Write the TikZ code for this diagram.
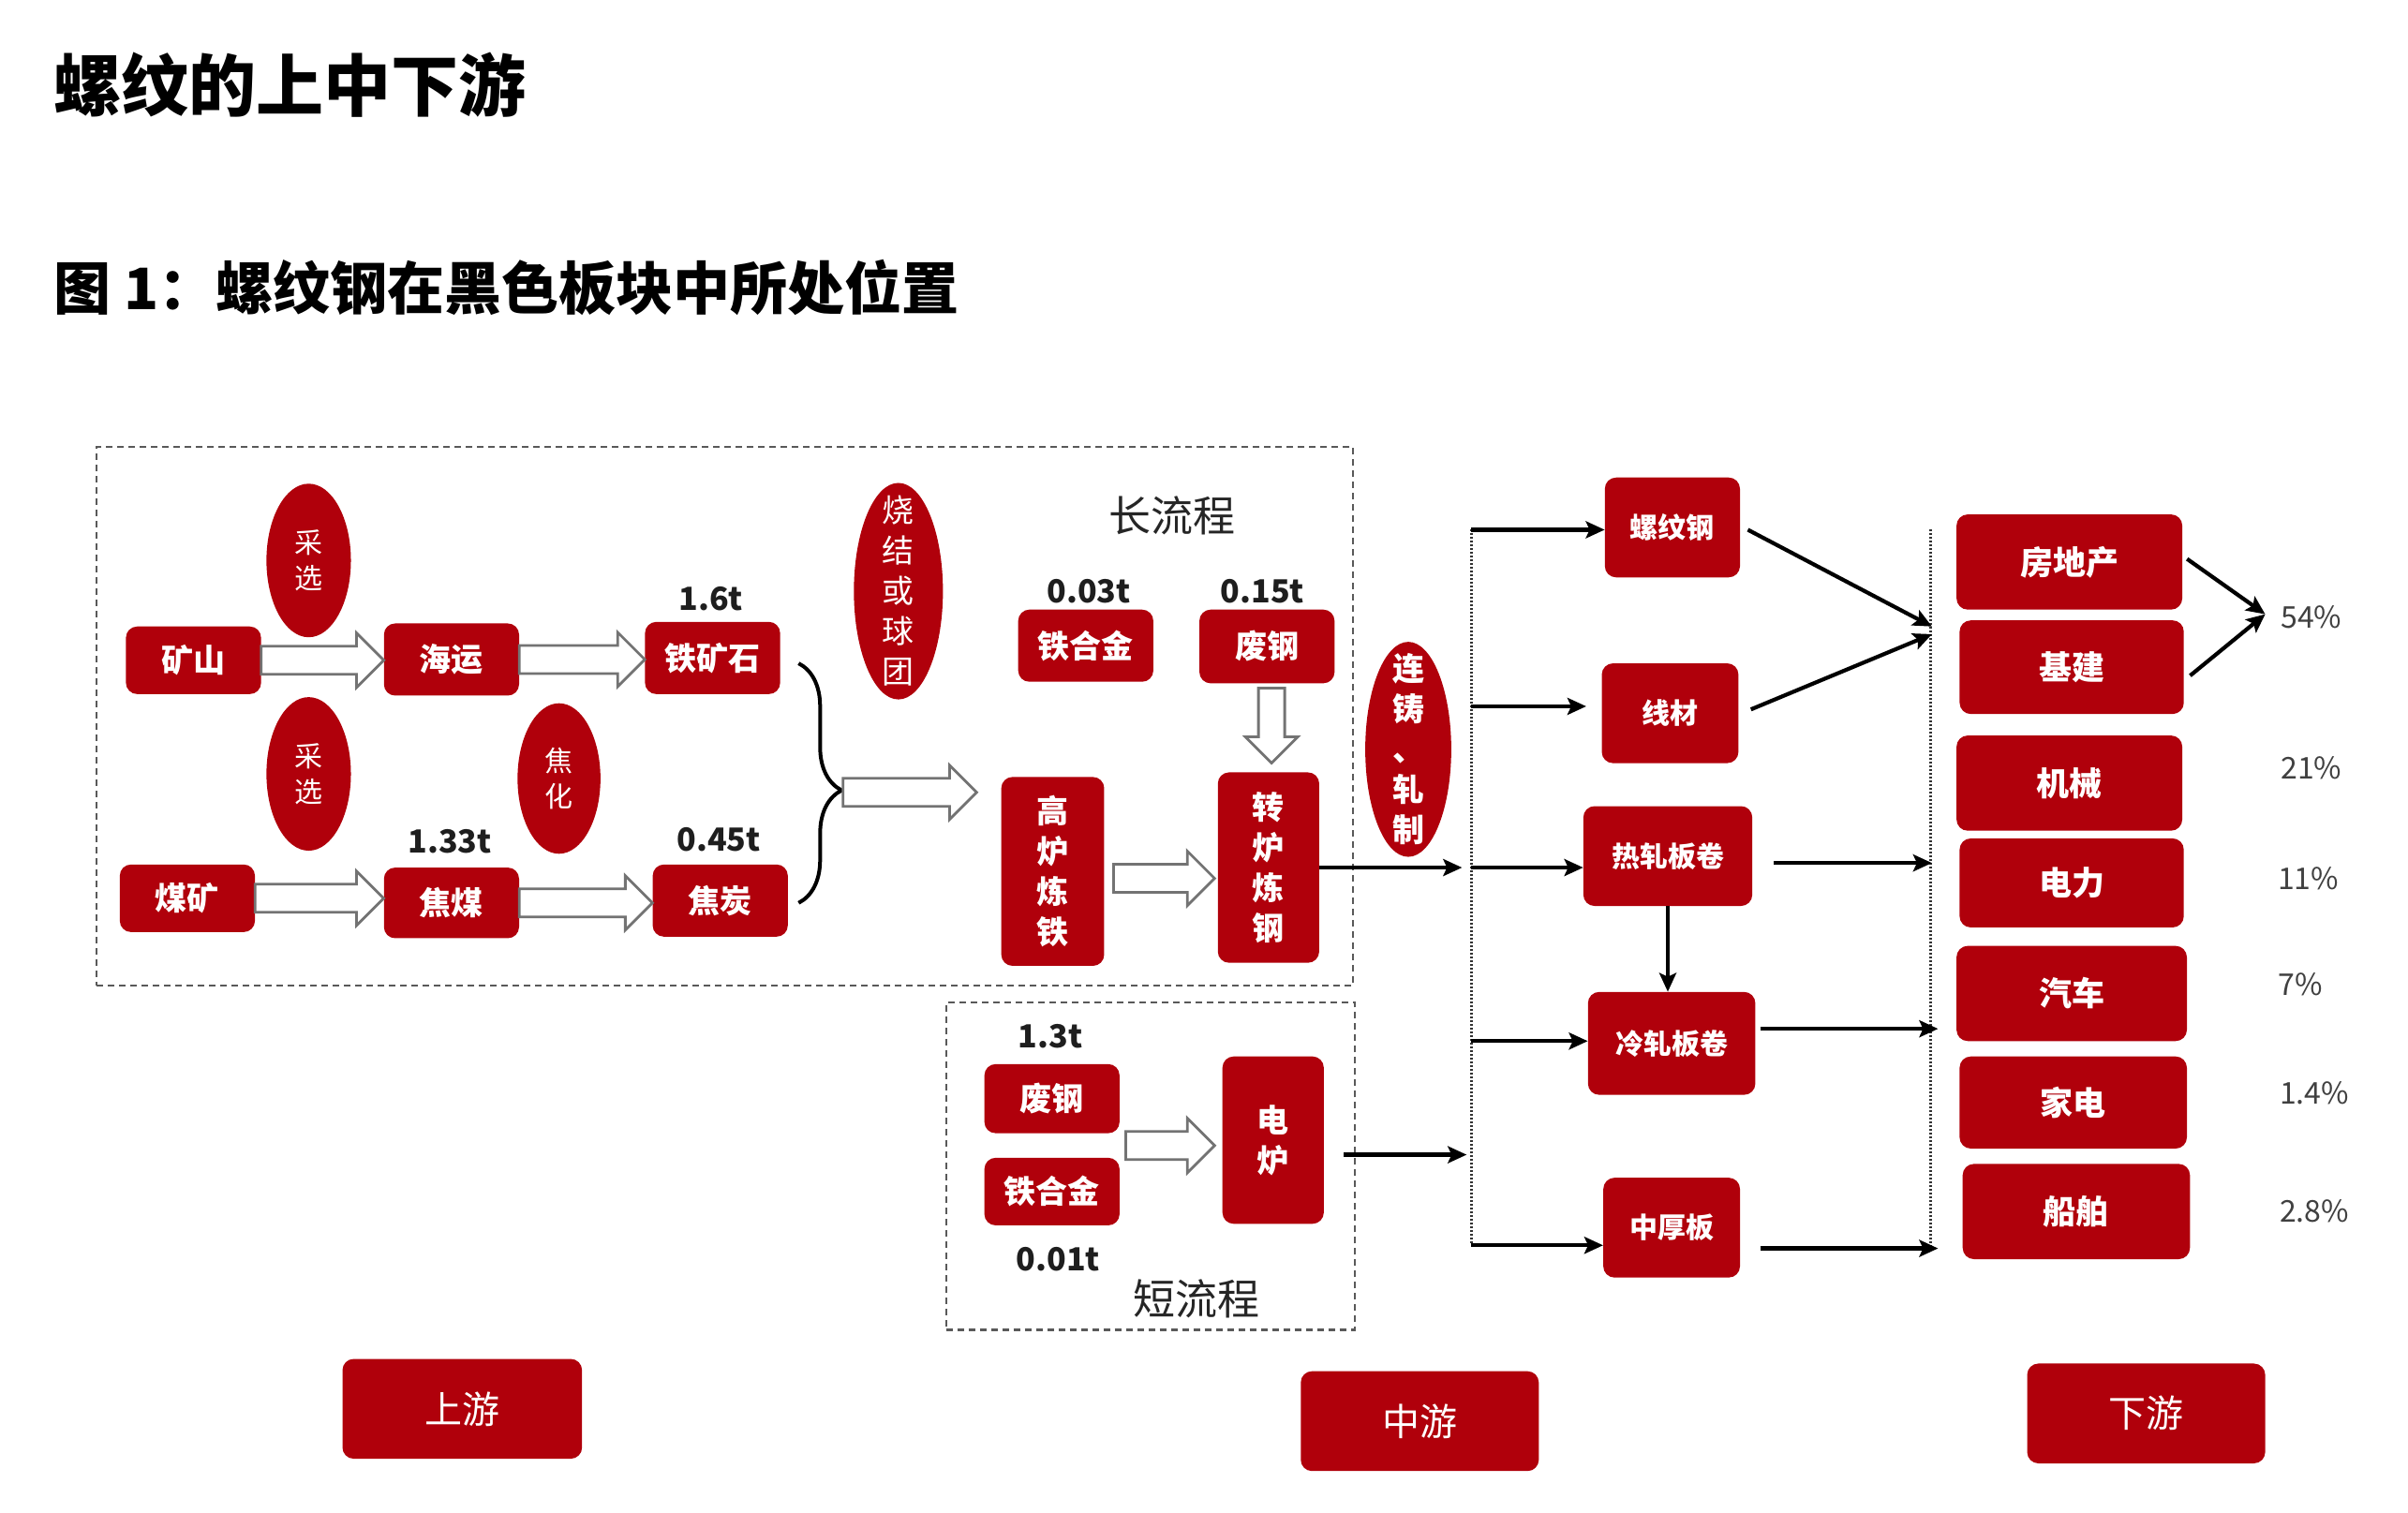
\documentclass[tikz,border=0pt]{standalone}
\usepackage{fontspec}
\setmainfont{Noto Sans CJK SC}
\usetikzlibrary{arrows.meta,calc,decorations.pathreplacing,shapes.geometric}
\definecolor{myred}{RGB}{176,0,11}
\definecolor{lbl}{RGB}{30,30,30}
\newcommand\blockR[2]{%
  \draw[hollow] let \p1=(#1), \p2=(#2) in
   (\x1,{\y1+15pt}) -- ({\x2-29pt},{\y1+15pt}) -- ({\x2-29pt},{\y1+29pt}) -- (\x2,\y1)
   -- ({\x2-29pt},{\y1-29pt}) -- ({\x2-29pt},{\y1-15pt}) -- (\x1,{\y1-15pt}) -- cycle;}
\newcommand\blockD[2]{%
  \draw[hollow] let \p1=(#1), \p2=(#2) in
   ({\x1-14pt},\y1) -- ({\x1-14pt},{\y2+28pt}) -- ({\x1-28pt},{\y2+28pt}) -- (\x1,\y2)
   -- ({\x1+28pt},{\y2+28pt}) -- ({\x1+14pt},{\y2+28pt}) -- ({\x1+14pt},\y1) -- cycle;}
\begin{document}
\begin{tikzpicture}[x=1.639pt,y=-1.639pt,
  rbox/.style={fill=myred, rounded corners=12pt, text=white, inner sep=0pt, align=center,
               font=\bfseries\fontsize{34}{43}\selectfont},
  vbox/.style={rbox, font=\bfseries\fontsize{34}{43}\selectfont},
  mbox/.style={rbox, font=\bfseries\fontsize{30}{36}\selectfont},
  dbx/.style={rbox, font=\bfseries\fontsize{35}{40}\selectfont},
  bbox/.style={rbox, font=\fontsize{40}{46}\selectfont},
  wh/.style 2 args={minimum width=#1*1.639pt, minimum height=#2*1.639pt},
  ell/.style={ellipse, fill=myred, inner sep=0pt},
  etext/.style={text=white, align=center, inner sep=0pt},
  num/.style={font=\bfseries\fontsize{34}{40}\selectfont, text=lbl, inner sep=0pt},
  pct/.style={font=\fontsize{32}{36}\selectfont, text=black!75, inner sep=0pt},
  flow/.style={font=\fontsize{45}{50}\selectfont, text=black!85, inner sep=0pt},
  arr/.style={line width=4.2pt, -{Stealth[length=20pt,width=18pt,inset=4pt]}},
  hollow/.style={draw=black!55, fill=white, line width=2.8pt, line join=miter},
  dotv/.style={line width=3.2pt, dash pattern=on 2pt off 2pt, black!80},
  dbox/.style={draw=black!65, line width=2.2pt, dash pattern=on 7pt off 5pt, inner sep=0pt}]
\path[use as bounding box] (0,0) rectangle (1568,985);

% titles
\node[anchor=west, inner sep=0pt, font=\bfseries\fontsize{72}{80}\selectfont] (t1) at (35,55) {螺纹的上中下游};
\node[anchor=west, inner sep=0pt, font=\bfseries\fontsize{61}{70}\selectfont] (t2) at (35,187) {图 1：螺纹钢在黑色板块中所处位置};

% dashed frames
\node[dbox, wh={818}{351}] (longbox) at (472,466.5) {};
\node[dbox, wh={266}{213}] (shortbox) at (749,759.5) {};

% upstream
\node[rbox, wh={88}{44}] (ks) at (126,430) {矿山};
\node[rbox, wh={88}{47}] (hy) at (294,429.5) {海运};
\node[rbox, wh={88}{47}] (tks) at (464,428.5) {铁矿石};
\node[rbox, wh={88}{44}] (mk) at (122,585) {煤矿};
\node[rbox, wh={88}{46}] (jm) at (294,588) {焦煤};
\node[rbox, wh={88}{47}] (jt) at (469,586.5) {焦炭};
\node[num] (n16) at (463,390) {1.6t};
\node[num] (n133) at (293,548) {1.33t};
\node[num] (n045) at (468,547) {0.45t};

\node[ell, wh={55}{100}, label={[etext, font=\fontsize{30}{38}\selectfont]center:采\\选}] (cx1) at (201,365) {};
\node[ell, wh={55}{100}, label={[etext, font=\fontsize{30}{38}\selectfont]center:采\\选}] (cx2) at (201,504) {};
\node[ell, wh={54}{98}, label={[etext, font=\fontsize{30}{38}\selectfont]center:焦\\化}] (jh) at (364,507) {};
\node[ell, wh={58}{141}, label={[etext, font=\fontsize{34}{43}\selectfont]center:烧\\结\\或\\球\\团}] (sj) at (585,385) {};

\blockR{ks.east}{hy.west}
\blockR{hy.east}{tks.west}
\blockR{mk.east}{jm.west}
\blockR{jm.east}{jt.west}

% brace
\coordinate (bt) at (520,432);
\coordinate (bb) at (520,588);
\coordinate (btip) at (549,516);
\coordinate (bend) at (636,516);
\draw[line width=4pt, decorate, decoration={brace, amplitude=46pt, aspect=0.53}] (bt) -- (bb);
\blockR{btip}{bend}

% long flow
\node[flow] (lc) at (763,336) {长流程};
\node[num] (n003) at (709,385) {0.03t};
\node[num] (n015) at (822,385) {0.15t};
\node[rbox, wh={88}{47}] (thj) at (707,420.5) {铁合金};
\node[rbox, wh={88}{48}] (fg) at (825,421) {废钢};
\node[vbox, wh={67}{123}] (gl) at (685.5,567.5) {高\\炉\\炼\\铁};
\node[vbox, wh={66}{124}] (zl) at (826,565) {转\\炉\\炼\\钢};
\blockD{$(fg.south)+(3,3)$}{$(zl.north)+(2,-6)$}
\blockR{$(gl.east)+(6,4.5)$}{$(zl.west)+(-2,7)$}

\node[ell, wh={56}{140}, label={[etext, font=\bfseries\fontsize{34}{43}\selectfont]center:连\\铸\\、\\轧\\制}] (lz) at (917,488) {};

% short flow
\node[num] (n13) at (684,675) {1.3t};
\node[rbox, wh={88}{45}] (fg2) at (685,715.5) {废钢};
\node[rbox, wh={88}{44}] (thj2) at (685,776) {铁合金};
\node[num] (n001) at (689,820) {0.01t};
\node[vbox, wh={66}{109}] (dl) at (829,742.5) {电\\炉};
\node[flow] (dc) at (779,846) {短流程};
\coordinate (sa) at (733,746);
\blockR{sa}{$(dl.west)+(-5,3.5)$}

% middle
\coordinate (d1t) at (958,345);
\coordinate (d1b) at (958,811);
\draw[dotv] (d1t) -- (d1b);
\coordinate (e1) at (952,565);
\coordinate (e2) at (955,752);
\draw[arr] (zl.east) -- (e1);
\draw[arr] ($(e2 -| dl.east)+(13,0)$) -- (e2);

\node[mbox, wh={88}{65}] (lwg) at (1089,343.5) {螺纹钢};
\node[mbox, wh={89}{65}] (xc) at (1087.5,464.5) {线材};
\node[mbox, wh={110}{65}] (rz) at (1086,557.5) {热轧板卷};
\node[mbox, wh={109}{67}] (lzb) at (1088.5,679.5) {冷轧板卷};
\node[mbox, wh={89}{65}] (zhb) at (1088.5,799.5) {中厚板};

\coordinate (m2) at (958,460);
\coordinate (m3) at (958,565);
\coordinate (m4) at (958,678);
\draw[arr] (d1t) -- (d1t -| lwg.west);
\draw[arr] (m2) -- ($(m2 -| xc.west)+(-10,0)$);
\draw[arr] (m3) -- (m3 -| rz.west);
\draw[arr] (m4) -- (m4 -| lzb.west);
\draw[arr] (d1b) -- (d1b -| zhb.west);
\draw[arr] (rz.south) -- (rz.south |- lzb.north);

\coordinate (d2t) at (1257,345);
\coordinate (d2b) at (1257,815);
\draw[dotv] (d2t) -- (d2b);
\coordinate (a1) at (1258,408);
\coordinate (a2) at (1258,413);
\draw[arr] ($(lwg.east)+(5,1.5)$) -- (a1);
\draw[arr] ($(xc.east)+(8,-2.5)$) -- (a2);
\draw[arr] ($(rz.east)+(14,4.5)$) -- ($(d2t |- rz.east)+(1,4.5)$);
\draw[arr] ($(lzb.east)+(3,-9.5)$) -- ($(d2t |- lzb.east)+(5,-9.5)$);
\draw[arr] ($(zhb.east)+(13,13.5)$) -- ($(d2t |- zhb.east)+(5,13.5)$);

% downstream
\node[dbx, wh={147}{62}] (fdc) at (1347.5,366) {房地产};
\node[dbx, wh={146}{61}] (jj) at (1349,434.5) {基建};
\node[dbx, wh={147}{62}] (jx) at (1347.5,510) {机械};
\node[dbx, wh={146}{58}] (dli) at (1349,575) {电力};
\node[dbx, wh={150}{62}] (qc) at (1349,647) {汽车};
\node[dbx, wh={148}{60}] (jd) at (1350,718) {家电};
\node[dbx, wh={148}{62}] (cb) at (1352,789) {船舶};

\coordinate (p54) at (1475,400);
\draw[arr] ($(fdc.east)+(3,-2)$) -- (p54);
\draw[arr] ($(jj.east)+(4,5.5)$) -- (p54);

\node[pct] (q1) at (1505,402) {54\%};
\node[pct] (q2) at (1505,500) {21\%};
\node[pct] (q3) at (1503,572) {11\%};
\node[pct] (q4) at (1498,641) {7\%};
\node[pct] (q5) at (1507,712) {1.4\%};
\node[pct] (q6) at (1507,789) {2.8\%};

% bottom labels
\node[bbox, wh={156}{65}] (sy) at (301,917.5) {上游};
\node[bbox, wh={155}{65}] (zy) at (924.5,925.5) {中游};
\node[bbox, wh={155}{65}] (xy) at (1397.5,920.5) {下游};
\end{tikzpicture}
\end{document}
